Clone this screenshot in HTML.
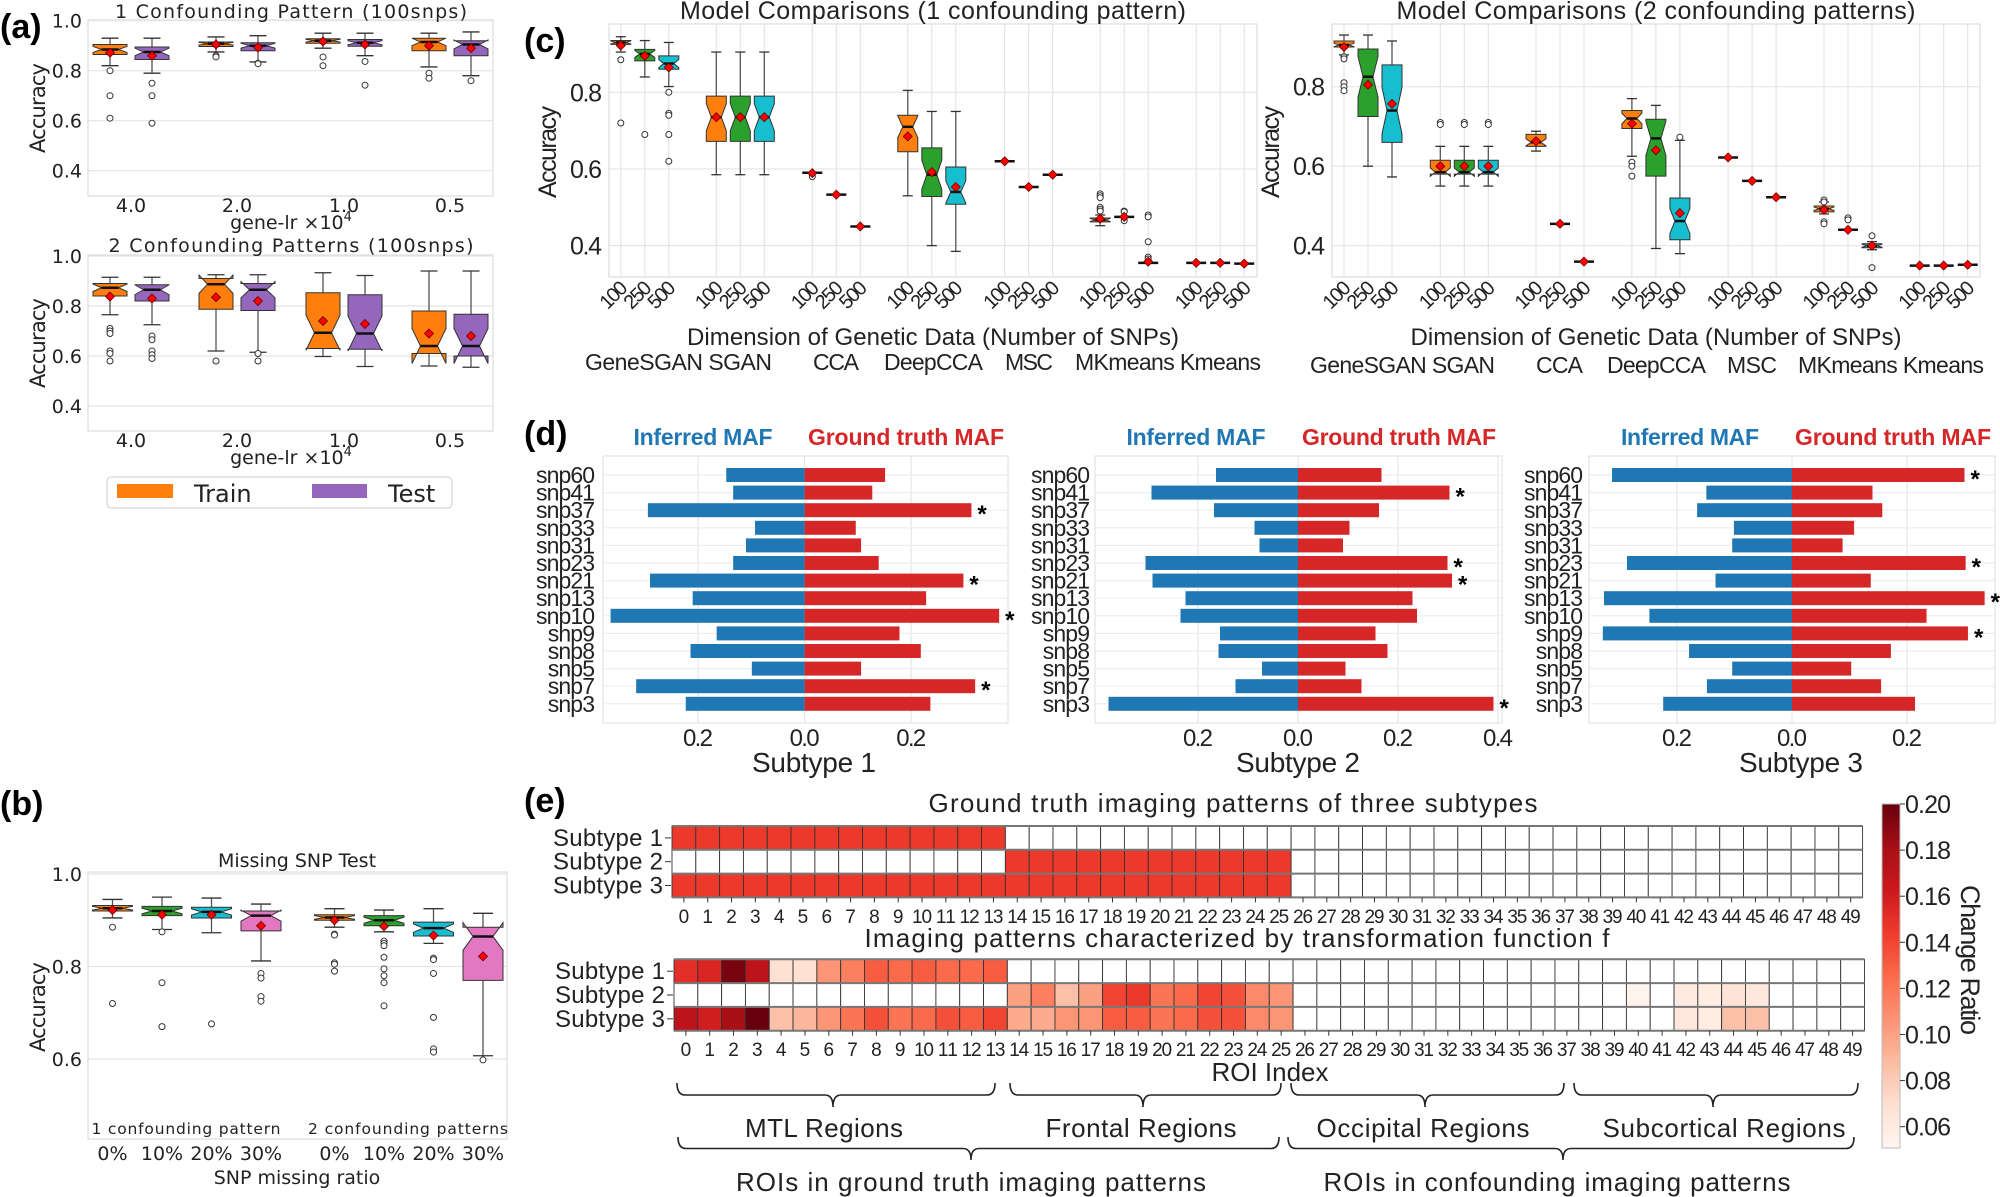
<!DOCTYPE html>
<html><head><meta charset="utf-8">
<style>
html,body{margin:0;padding:0;background:#fff;}
svg{display:block;}
text{font-family:"Liberation Sans",sans-serif;fill:#222;}
.dj{font-family:"DejaVu Sans","Liberation Sans",sans-serif;}
.b{font-weight:bold;fill:#000;}
</style></head>
<body>
<svg id="s" xmlns="http://www.w3.org/2000/svg" width="2000" height="1197" viewBox="0 0 2000 1197">
<rect width="2000" height="1197" fill="#fff"/>
<g id="g"></g>
<text x="0" y="38" class="b" font-size="34">(a)</text>
<text x="0" y="815" class="b" font-size="34">(b)</text>
<text x="524" y="52" class="b" font-size="34">(c)</text>
<text x="524" y="445" class="b" font-size="34">(d)</text>
<text x="524" y="812" class="b" font-size="34">(e)</text>

<text x="291" y="18" class="dj" font-size="19" text-anchor="middle" textLength="352">1 Confounding Pattern (100snps)</text>
<text x="291" y="252" class="dj" font-size="19" text-anchor="middle" textLength="365">2 Confounding Patterns (100snps)</text>
<text x="291" y="229" class="dj" font-size="19" text-anchor="middle">gene-lr ×10<tspan dy="-8" font-size="13">4</tspan></text>
<text x="291" y="464" class="dj" font-size="19" text-anchor="middle">gene-lr ×10<tspan dy="-8" font-size="13">4</tspan></text>
<rect x="107" y="477" width="345" height="31" rx="4" fill="#fff" stroke="#ccc"/>
<rect x="117" y="484" width="56" height="14" fill="#ff7f0e"/>
<rect x="312" y="484" width="55" height="14" fill="#9467bd"/>
<text x="194" y="502" class="dj" font-size="24">Train</text>
<text x="388" y="502" class="dj" font-size="24">Test</text>

<text x="297" y="867" class="dj" font-size="19" text-anchor="middle">Missing SNP Test</text>
<text x="186" y="1134" class="dj" font-size="15.5" text-anchor="middle" textLength="189">1 confounding pattern</text>
<text x="408" y="1134" class="dj" font-size="15.5" text-anchor="middle" textLength="200">2 confounding patterns</text>
<text x="297" y="1184" class="dj" font-size="19" text-anchor="middle">SNP missing ratio</text>

<text x="933" y="19" font-size="25" text-anchor="middle" textLength="506">Model Comparisons (1 confounding pattern)</text>
<text x="933" y="345" font-size="24" text-anchor="middle" textLength="492">Dimension of Genetic Data (Number of SNPs)</text>
<text x="585" y="370" font-size="23" textLength="187">GeneSGAN SGAN</text>
<text x="813" y="370" font-size="23" textLength="46">CCA</text>
<text x="884" y="370" font-size="23" textLength="99">DeepCCA</text>
<text x="1005" y="370" font-size="23" textLength="48">MSC</text>
<text x="1075" y="370" font-size="23" textLength="186">MKmeans Kmeans</text>

<text x="1656" y="19" font-size="25" text-anchor="middle" textLength="519">Model Comparisons (2 confounding patterns)</text>
<text x="1656" y="345" font-size="24" text-anchor="middle" textLength="491">Dimension of Genetic Data (Number of SNPs)</text>
<text x="1310" y="373" font-size="23" textLength="185">GeneSGAN SGAN</text>
<text x="1536" y="373" font-size="23" textLength="47">CCA</text>
<text x="1607" y="373" font-size="23" textLength="99">DeepCCA</text>
<text x="1727" y="373" font-size="23" textLength="50">MSC</text>
<text x="1798" y="373" font-size="23" textLength="186">MKmeans Kmeans</text>

<text x="703" y="445" font-size="23" font-weight="bold" style="fill:#1f77b4" text-anchor="middle" textLength="139">Inferred MAF</text>
<text x="906" y="445" font-size="23" font-weight="bold" style="fill:#d62728" text-anchor="middle" textLength="196">Ground truth MAF</text>
<text x="1196" y="445" font-size="23" font-weight="bold" style="fill:#1f77b4" text-anchor="middle" textLength="139">Inferred MAF</text>
<text x="1399" y="445" font-size="23" font-weight="bold" style="fill:#d62728" text-anchor="middle" textLength="194">Ground truth MAF</text>
<text x="1690" y="445" font-size="23" font-weight="bold" style="fill:#1f77b4" text-anchor="middle" textLength="138">Inferred MAF</text>
<text x="1893" y="445" font-size="23" font-weight="bold" style="fill:#d62728" text-anchor="middle" textLength="196">Ground truth MAF</text>
<text x="814" y="772" font-size="28" text-anchor="middle" textLength="124">Subtype 1</text>
<text x="1298" y="772" font-size="28" text-anchor="middle" textLength="124">Subtype 2</text>
<text x="1801" y="772" font-size="28" text-anchor="middle" textLength="124">Subtype 3</text>

<text x="1233" y="812" font-size="26" text-anchor="middle" textLength="609">Ground truth imaging patterns of three subtypes</text>
<text x="1237" y="947" font-size="26" text-anchor="middle" textLength="745">Imaging patterns characterized by transformation function f</text>
<text x="1270" y="1081" font-size="26" text-anchor="middle" textLength="117">ROI Index</text>
<text x="824" y="1137" font-size="26" text-anchor="middle" textLength="158">MTL Regions</text>
<text x="1141" y="1137" font-size="26" text-anchor="middle" textLength="191">Frontal Regions</text>
<text x="1423" y="1137" font-size="26" text-anchor="middle" textLength="213">Occipital Regions</text>
<text x="1724" y="1137" font-size="26" text-anchor="middle" textLength="243">Subcortical Regions</text>
<text x="971" y="1191" font-size="26" text-anchor="middle" textLength="470">ROIs in ground truth imaging patterns</text>
<text x="1557" y="1191" font-size="26" text-anchor="middle" textLength="467">ROIs in confounding imaging patterns</text>
<text x="0" y="0" font-size="27" text-anchor="middle" transform="translate(1961,960) rotate(90)" textLength="150">Change Ratio</text>
</svg>
<script>
const NS='http://www.w3.org/2000/svg';const S=document.getElementById('g');
function el(t,a,tx){const e=document.createElementNS(NS,t);for(const k in a)e.setAttribute(k,a[k]);if(tx!==undefined)e.textContent=tx;S.appendChild(e);return e;}
function txt(x,y,s,size,anchor,cls,extra){const a={x:x,y:y,'font-size':size,'text-anchor':anchor||'start'};if(cls)a['class']=cls;if(extra)for(const k in extra)a[k]=extra[k];return el('text',a,s);}
function box(cx,w,Y,b,col){
 const [wl,wh,q1,q3,med,mean,outs,dd]=b;
 const L=cx-w/2,R=cx+w/2;
 if(Y(q1)-Y(q3)<3){
  el('line',{x1:cx-w/2,x2:cx+w/2,y1:Y(med),y2:Y(med),stroke:'#111','stroke-width':2.5});
 }else{
 el('line',{x1:cx,x2:cx,y1:Y(wh),y2:Y(q3),stroke:'#555','stroke-width':1.3});
 el('line',{x1:cx,x2:cx,y1:Y(q1),y2:Y(wl),stroke:'#555','stroke-width':1.3});
 el('line',{x1:cx-w/4,x2:cx+w/4,y1:Y(wh),y2:Y(wh),stroke:'#333','stroke-width':1.3});
 el('line',{x1:cx-w/4,x2:cx+w/4,y1:Y(wl),y2:Y(wl),stroke:'#333','stroke-width':1.3});
 const d=dd!==undefined?dd:Math.max(0.004,0.3*(q3-q1));const ni=w/4;
 const p=[[L,Y(q3)],[R,Y(q3)],[R,Y(med+d)],[R-ni,Y(med)],[R,Y(med-d)],[R,Y(q1)],[L,Y(q1)],[L,Y(med-d)],[L+ni,Y(med)],[L,Y(med+d)]];
 el('polygon',{points:p.map(q=>q.join(',')).join(' '),fill:col,stroke:'#333','stroke-width':1});
 el('line',{x1:L+ni,x2:R-ni,y1:Y(med),y2:Y(med),stroke:'#111','stroke-width':2.5});
 }
 (outs||[]).forEach(o=>el('circle',{cx:cx,cy:Y(o),r:3,fill:'#fff',stroke:'#333','stroke-width':1}));
 const m=Y(mean),s=4.5;
 el('polygon',{points:`${cx},${m-s} ${cx+s},${m} ${cx},${m+s} ${cx-s},${m}`,fill:'#f00',stroke:'#600','stroke-width':0.8});
}
function axesFrame(x0,x1,y0,y1){el('rect',{x:x0,y:y0,width:x1-x0,height:y1-y0,fill:'#fff',stroke:'#ddd','stroke-width':1.2});}
function hgrid(x0,x1,Y,vals){vals.forEach(v=>el('line',{x1:x0,x2:x1,y1:Y(v),y2:Y(v),stroke:'#e4e4e4','stroke-width':1.2}));}
const OR='#ff7f0e',PU='#9467bd',GR='#2ca02c',CY='#17becf',PK='#e377c2';

// ===== (a) =====
[[20,196,v=>20.7+(1-v)*250,[
 [[.82,.93,.865,.905,.885,.872,[.80,.70,.61]],[.79,.93,.845,.895,.875,.86,[.75,.70,.59]]],
 [[.875,.935,.897,.915,.908,.905,[.86,.855]],[.835,.94,.88,.912,.9,.893,[.83,.828]]],
 [[.89,.95,.91,.928,.92,.917,[.855,.82]],[.86,.95,.898,.925,.912,.905,[.837,.742]]],
 [[.815,.95,.88,.93,.915,.9,[.79,.77]],[.78,.955,.86,.92,.905,.89,[.76]]]],108],
 [255,431,v=>256+(1-v)*250,[
 [[.765,.915,.84,.89,.873,.838,[.71,.70,.69,.62,.61,.58]],[.725,.915,.82,.885,.865,.83,[.68,.665,.62,.605,.59]]],
 [[.62,.925,.787,.91,.887,.835,[.58]],[.615,.925,.782,.89,.865,.82,[.61,.58]]],
 [[.598,.933,.63,.853,.693,.74,[],.07],[.558,.922,.627,.845,.69,.728,[],.07]],
 [[.56,.94,.61,.78,.64,.69,[],.07],[.555,.94,.6,.767,.64,.68,[],.07]]],343]].forEach(([y0,y1,Y,data,ly])=>{
 axesFrame(88,493,y0,y1);hgrid(88,493,Y,[.4,.6,.8,1.0]);
 [1.0,.8,.6,.4].forEach(v=>txt(82,Y(v)+7,v.toFixed(1),19,'end','dj'));
 const xs=[131,237,344,450];['4.0','2.0','1.0','0.5'].forEach((t,i)=>txt(xs[i],y1+16,t,19,'middle','dj'));
 data.forEach((g,i)=>{box(xs[i]-21,34,Y,g[0],OR);box(xs[i]+21,34,Y,g[1],PU);});
 txt(0,0,'Accuracy',21,'middle','dj',{transform:`translate(45,${ly}) rotate(-90)`,textLength:90});
});

// ===== (b) =====
(function(){const Y=v=>874+(1-v)*462.5;axesFrame(88,507,872,1139);hgrid(88,507,Y,[.6,.8,1.0]);
[1.0,.8,.6].forEach(v=>txt(82,Y(v)+7,v.toFixed(1),19,'end','dj'));
const xs=[112.5,162,211.5,261,334.5,384,433.5,483],cols=[OR,GR,CY,PK,OR,GR,CY,PK];
const D=[[.905,.945,.92,.932,.926,.922,[.885,.72]],[.88,.95,.91,.93,.92,.912,[.875,.765,.67]],[.873,.948,.905,.928,.918,.912,[.676]],[.812,.935,.877,.92,.91,.888,[.785,.775,.735,.725],.012],
[.885,.925,.9,.912,.906,.9,[.87,.868,.808,.805,.79]],[.875,.922,.888,.91,.9,.887,[.855,.85,.845,.82,.795,.78,.765,.715]],[.85,.925,.866,.896,.883,.867,[.818,.815,.785,.69,.622,.615]],[.607,.915,.77,.885,.865,.822,[.598],.03]];
D.forEach((d,i)=>box(xs[i],40,Y,d,cols[i]));
['0%','10%','20%','30%','0%','10%','20%','30%'].forEach((t,i)=>txt(xs[i],1160,t,19,'middle','dj'));
txt(0,0,'Accuracy',21,'middle','dj',{transform:'translate(45,1007) rotate(-90)',textLength:90});})();

// ===== (c) =====
function panelC(x0,x1,Y,gx,ticks,data,ylx){
 axesFrame(x0,x1,24,277);hgrid(x0,x1,Y,ticks);
 const cols=[OR,GR,CY];
 gx.forEach(g=>[0,24,48].forEach(o=>el('line',{x1:g+o,x2:g+o,y1:24,y2:277,stroke:'#e4e4e4','stroke-width':1.2})));
 ticks.forEach(v=>txt(x0-7,Y(v)+9,v.toFixed(1),25,'end',null,{textLength:32}));
 gx.forEach((g,i)=>[0,24,48].forEach((o,j)=>{box(g+o,20,Y,data[i][j],cols[j]);
   txt(0,0,['100','250','500'][j],20,'end',null,{transform:`translate(${g+o+8},289) rotate(-45)`,textLength:30});}));
 txt(0,0,'Accuracy',25,'middle',null,{transform:`translate(${ylx},152) rotate(-90)`,textLength:92});
}
function t(v){return [v-.002,v+.002,v-.001,v+.001,v,v,[]];}
panelC(609,1257,v=>92.3+(0.8-v)*383.3,[620.8,716.3,812.3,907.8,1004.7,1100.2,1196.2],[.4,.6,.8],[
 [[.905,.945,.925,.935,.93,.922,[.885,.72]],[.84,.935,.882,.912,.9,.895,[.69]],[.815,.93,.86,.895,.875,.865,[.80,.745,.74,.69,.62]]],
 [[.585,.905,.672,.79,.735,.735,[]],[.585,.905,.672,.79,.735,.735,[]],[.585,.905,.672,.79,.735,.735,[]]],
 [[.587,.592,.588,.591,.59,.589,[.58]],t(.533),t(.45)],
 [[.53,.805,.645,.74,.71,.685,[]],[.4,.75,.528,.655,.585,.592,[]],[.385,.75,.508,.605,.54,.553,[]]],
 [t(.62),t(.553),t(.585)],
 [[.452,.48,.462,.472,.467,.47,[.535,.53,.525,.5,.495,.49]],[.47,.48,.472,.477,.475,.475,[.49,.488,.465]],[.353,.358,.354,.357,.355,.358,[.48,.475,.41,.37,.365]]],
 [t(.355),t(.355),t(.353)]],556);
panelC(1332,1980,v=>86.7+(0.8-v)*397.5,[1344,1440.3,1536,1631.9,1728.1,1824,1919.7],[.4,.6,.8],[
 [[.88,.93,.9,.915,.905,.9,[.875,.87,.81,.8,.79]],[.6,.93,.725,.895,.825,.805,[]],[.573,.915,.66,.855,.74,.757,[]]],
 [[.55,.65,.58,.615,.585,.6,[.71,.705]],[.55,.65,.58,.615,.585,.6,[.71,.705]],[.55,.65,.58,.615,.585,.6,[.71,.705]]],
 [[.638,.688,.65,.68,.66,.663,[]],t(.455),t(.36)],
 [[.625,.77,.695,.74,.72,.707,[.61,.60,.575]],[.393,.753,.575,.718,.67,.64,[]],[.38,.665,.415,.52,.462,.482,[.673]]],
 [t(.622),t(.563),t(.522)],
 [[.48,.51,.485,.5,.493,.49,[.515,.51,.46,.455]],[.435,.445,.437,.443,.44,.44,[.47,.465]],[.39,.41,.395,.405,.4,.4,[.425,.345]]],
 [t(.35),t(.35),t(.352)]],1279);

// ===== (d) =====
const SN=['snp60','snp41','snp37','snp33','snp31','snp23','snp21','snp13','snp10','snp9','snp8','snp5','snp7','snp3'];
function panelD(x0,x1,z,sc,ticks,L,R,stars,lx){
 el('rect',{x:x0,y:456,width:x1-x0,height:267,fill:'#fff',stroke:'#e2e2e2','stroke-width':1.2});
 ticks.forEach(([v,lab])=>{const x=z+v*sc;el('line',{x1:x,x2:x,y1:456,y2:723,stroke:'#e6e6e6','stroke-width':1.2});txt(x,746,lab,24,'middle',null,{textLength:30});});
 SN.forEach((s,i)=>{const y=475+i*17.6;el('line',{x1:x0,x2:x1,y1:y,y2:y,stroke:'#eee','stroke-width':1.2});});
 SN.forEach((s,i)=>{const y=475+i*17.6;
  el('rect',{x:z-L[i]*sc,y:y-7,width:L[i]*sc,height:14,fill:'#1f77b4'});
  el('rect',{x:z,y:y-7,width:R[i]*sc,height:14,fill:'#d62728'});
  txt(lx,y+8,s,23,'end',null,{textLength:s.length*11.8});
  if(stars.includes(s))txt(z+R[i]*sc+6,y+12,'*',24,'start','b');});
}
panelD(603,1008,804.6,533,[[-.2,'0.2'],[0,'0.0'],[.2,'0.2']],
 [.147,.134,.294,.093,.11,.134,.29,.21,.364,.165,.214,.099,.316,.223],
 [.151,.127,.313,.096,.106,.139,.298,.228,.365,.178,.218,.106,.32,.236],['snp37','snp21','snp10','snp7'],595);
panelD(1095,1502,1298,500,[[-.2,'0.2'],[0,'0.0'],[.2,'0.2'],[.4,'0.4']],
 [.164,.293,.168,.087,.077,.305,.291,.225,.235,.156,.159,.072,.125,.379],
 [.167,.303,.162,.103,.09,.299,.308,.229,.238,.155,.179,.095,.127,.391],['snp41','snp23','snp21','snp3'],1090);
panelD(1589,1995,1792,575,[[-.2,'0.2'],[0,'0.0'],[.2,'0.2']],
 [.313,.149,.165,.101,.104,.287,.133,.327,.248,.329,.179,.104,.148,.224],
 [.30,.14,.157,.108,.088,.302,.137,.335,.234,.306,.172,.103,.155,.214],['snp60','snp23','snp13','snp9'],1583);

// ===== (e) =====
const RS=[[255,245,240],[254,224,210],[252,187,161],[252,146,114],[251,106,74],[239,59,44],[203,24,29],[165,15,21],[103,0,13]];
function red(v){if(v<=0.05)return '#ffffff';let tt=Math.min(1,(v-0.05)/0.15)*8;const i=Math.min(7,Math.floor(tt)),f=tt-i;const c=RS[i].map((a,k)=>Math.round(a+(RS[i+1][k]-a)*f));return `rgb(${c})`;}
function heat(x0,x1,y0,rh,rows,lblx,ty){
 const cw=(x1-x0)/50;
 rows.forEach((r,ri)=>{for(let c=0;c<50;c++){el('rect',{x:x0+c*cw,y:y0+ri*rh,width:cw,height:rh,fill:red(r[c]||0),stroke:'#333','stroke-width':0.9});}
  txt(lblx,y0+ri*rh+rh/2+8,'Subtype '+(ri+1),24,'end',null,{textLength:110});
  el('line',{x1:lblx+2,x2:lblx+8,y1:y0+ri*rh+rh/2,y2:y0+ri*rh+rh/2,stroke:'#333'});});
 for(let ri=0;ri<=3;ri++)el('line',{x1:x0,x2:x1,y1:y0+ri*rh,y2:y0+ri*rh,stroke:'#777','stroke-width':2});
 for(let c=0;c<50;c++){const x=x0+c*cw+cw/2;el('line',{x1:x,x2:x,y1:y0+3*rh,y2:y0+3*rh+5,stroke:'#333'});
  txt(x,ty,String(c),19,'middle',null,c>9?{textLength:20}:{});}
}
const g1=new Array(50).fill(0),g2=new Array(50).fill(0),g3=new Array(50).fill(0);
for(let i=0;i<14;i++){g1[i]=.145;g3[i]=.145;}for(let i=14;i<26;i++){g2[i]=.145;g3[i]=.145;}
heat(672,1862.6,826,23.8,[g1,g2,g3],663,923);
const h1=new Array(50).fill(0),h2=new Array(50).fill(0),h3=new Array(50).fill(0);
[.15,.155,.195,.17,.068,.068,.105,.115,.13,.125,.13,.125,.125,.13].forEach((v,i)=>h1[i]=v);
[.10,.115,.085,.10,.14,.145,.12,.125,.14,.135,.11,.105].forEach((v,i)=>h2[14+i]=v);
h2[40]=.052;h2[42]=.06;h2[43]=.058;h2[44]=.066;h2[45]=.062;
[.17,.16,.18,.2,.085,.09,.105,.12,.135,.12,.125,.135,.13,.14,.095,.095,.105,.105,.13,.13,.12,.125,.135,.135,.11,.105].forEach((v,i)=>h3[i]=v);
h3[42]=.062;h3[43]=.058;h3[44]=.085;h3[45]=.085;
heat(674,1864.5,959.3,23.8,[h1,h2,h3],665,1056);
function brace(x0,x1,tip,yt,yb){const ym=(yt+yb)/2;
 el('path',{d:`M${x0},${yt} Q${x0},${ym} ${x0+8},${ym} L${tip-8},${ym} Q${tip},${ym} ${tip},${yb} Q${tip},${ym} ${tip+8},${ym} L${x1-8},${ym} Q${x1},${ym} ${x1},${yt}`,fill:'none',stroke:'#222','stroke-width':1.6});}
brace(677,995,833,1083,1107);brace(1010,1281,1143,1083,1107);brace(1291,1564,1425,1083,1107);brace(1574,1858,1713,1083,1107);
brace(678,1279,971,1137,1160);brace(1288,1854,1563,1137,1160);
const defs=el('defs',{});const lg=document.createElementNS(NS,'linearGradient');lg.setAttribute('id','cb');lg.setAttribute('x1','0');lg.setAttribute('y1','1');lg.setAttribute('x2','0');lg.setAttribute('y2','0');
RS.forEach((c,i)=>{const st=document.createElementNS(NS,'stop');st.setAttribute('offset',i/8);st.setAttribute('stop-color',`rgb(${c})`);lg.appendChild(st);});defs.appendChild(lg);
el('rect',{x:1882,y:804,width:18,height:344,fill:'url(#cb)',stroke:'#bbb','stroke-width':1});
[.20,.18,.16,.14,.12,.10,.08,.06].forEach(v=>{const y=804+(0.20-v)/0.02*46.1;el('line',{x1:1900,x2:1905,y1:y,y2:y,stroke:'#333'});txt(1905,y+9,v.toFixed(2),25,'start',null,{textLength:46});});
</script>
</body></html>
